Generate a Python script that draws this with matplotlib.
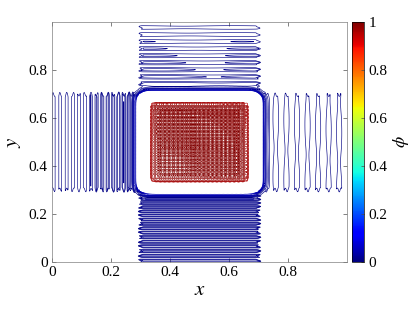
import numpy as np
import matplotlib
matplotlib.use("Agg")
import matplotlib.pyplot as plt
from matplotlib import cm, colors

plt.rcParams["font.family"] = ["Liberation Serif", "DejaVu Serif"]
plt.rcParams["mathtext.fontset"] = "stix"

# square of phi=1 (centre, half-width to interface, interface width)
CENTRE = 0.5
HALF = 0.192
EPS = 0.016
# streak bands outside the square: (lo, hi) of the band, amplitude, streak freq
BAND_LEFT = (0.30, 0.70, 0.019, 44)
BAND_RIGHT = (0.30, 0.70, 0.008, 28)
BAND_TOP = (0.30, 0.70, 0.011, 34)
BAND_BOTTOM = (0.30, 0.70, 0.019, 48)
INNER_RIPPLE = (0.018, 34, 34)
LEVELS_LOW = [0.004, 0.009, 0.015, 0.021, 0.025, 0.029, 0.033, 0.037, 0.041, 0.045, 0.05]
LEVELS_HIGH = [0.955, 0.962, 0.969, 0.975, 0.982, 0.988, 0.993, 0.997, 0.9985]
XTICKS = [0, 0.2, 0.4, 0.6, 0.8]
YTICKS = [0, 0.2, 0.4, 0.6, 0.8]
CTICKS = [0, 0.2, 0.4, 0.6, 0.8, 1]

n = 601
x = np.linspace(0, 1, n)
X, Y = np.meshgrid(x, x)


def step(v, lo, hi, w=0.003):
    return 0.25 * (1 + np.tanh((v - lo) / w)) * (1 + np.tanh((hi - v) / w))


sx = 0.5 * (1 + np.tanh((HALF - np.abs(X - CENTRE)) / EPS))
sy = 0.5 * (1 + np.tanh((HALF - np.abs(Y - CENTRE)) / EPS))
base = sx * sy

# ripples inside the square: one term per direction, stronger toward top/right
a, fx, fy = INNER_RIPPLE
ux = np.clip((X - 0.33) / 0.34, 0, 1)
uy = np.clip((Y - 0.33) / 0.34, 0, 1)
wx = 0.6 + 0.9 * ux ** 2
wy = 0.6 + 0.9 * uy ** 2
ripple = a * (0.5 * wx * np.sin(2 * np.pi * fx * X) ** 2 + 0.5 * wy * np.sin(2 * np.pi * fy * Y) ** 2)

lo, hi, amp, f = BAND_LEFT
zig = 0.008 * np.sin(2 * np.pi * 85 * X)
left = amp * (0.35 + 0.65 * (X / 0.3) ** 2) * (0.5 + 0.5 * np.sin(2 * np.pi * f * X * (1 + 0.6 * X))) \
    * step(Y, lo + zig, hi + zig) * (X < 0.31)
lo, hi, amp, f = BAND_RIGHT
right = amp * (0.5 + 0.5 * np.sin(2 * np.pi * f * X)) * (0.8 + 0.2 * np.sin(2 * np.pi * 4 * Y + 7 * X)) \
    * step(Y, lo + zig, hi + zig) * (X > 0.72)
lo, hi, amp, f = BAND_TOP
zig2 = 0.006 * np.sin(2 * np.pi * 70 * Y)
top = amp * (1.2 - 0.5 * (Y - 0.74) / 0.26) * (0.5 + 0.5 * np.sin(2 * np.pi * f * Y)) \
    * (0.85 + 0.15 * np.sin(2 * np.pi * 3 * X + 9 * Y)) * step(X, lo + zig2, hi + zig2) * (Y > 0.72)
lo, hi, amp, f = BAND_BOTTOM
bottom = amp * (0.5 + 0.5 * np.sin(2 * np.pi * f * Y * (1 + 0.5 * Y))) \
    * step(X, lo + zig2, hi + zig2) * (Y < 0.30)
noise = left + right + top + bottom

phi = base * (1 - ripple) + (1 - base) * noise

fig = plt.figure(figsize=(4.15, 3.12), dpi=100)
ax = fig.add_axes([0.1253, 0.160, 0.711, 0.769])
norm = colors.Normalize(0, 1)
ax.contour(X, Y, phi, levels=LEVELS_LOW + LEVELS_HIGH, cmap="jet", norm=norm, linewidths=0.45)
ax.set_xlim(0, 1); ax.set_ylim(0, 1)
ax.set_xticks(XTICKS); ax.set_xticklabels(["0", "0.2", "0.4", "0.6", "0.8"])
ax.set_yticks(YTICKS); ax.set_yticklabels(["0", "0.2", "0.4", "0.6", "0.8"])
ax.tick_params(direction="in", top=True, right=True, length=3, width=0.5,
               labelsize=11, color="0.3", pad=3)
for s in ax.spines.values():
    s.set_linewidth(0.5); s.set_color("0.5")
ax.set_xlabel("$x$", fontsize=15, labelpad=1)
ax.set_ylabel("$y$", fontsize=15, labelpad=4)

cax = fig.add_axes([0.848, 0.160, 0.029, 0.769])
cb = fig.colorbar(cm.ScalarMappable(norm=norm, cmap="jet"), cax=cax, ticks=CTICKS)
cb.ax.set_yticklabels(["0", "0.2", "0.4", "0.6", "0.8", "1"])
cb.ax.tick_params(direction="in", length=2, width=0.5, labelsize=11, color="0.3")
cb.outline.set_linewidth(0.5)
cb.set_label(r"$\phi$", fontsize=13, rotation=90, labelpad=2)

fig.savefig("out.png", dpi=100)
